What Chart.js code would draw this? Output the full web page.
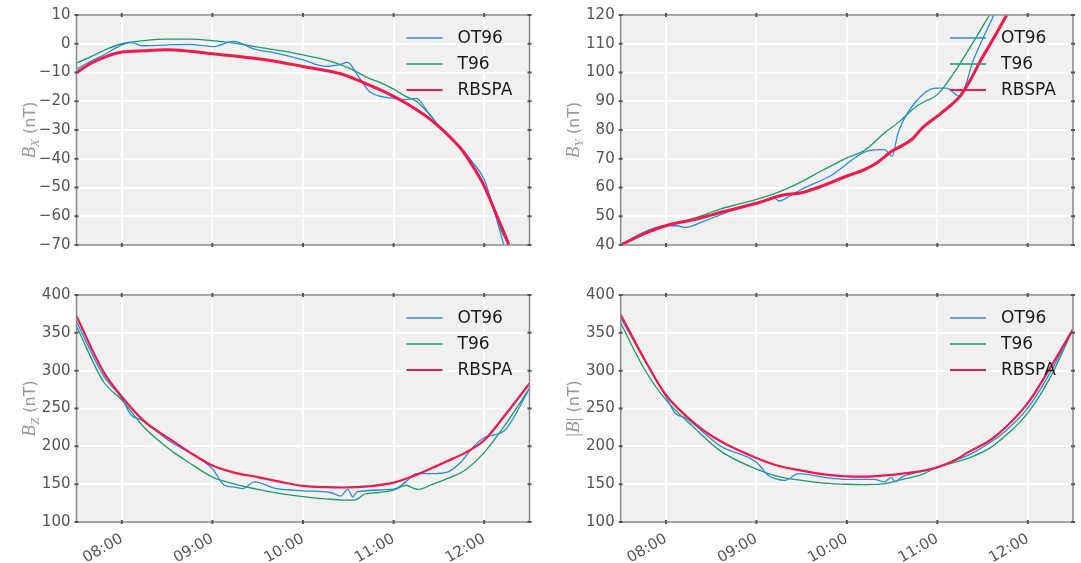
<!DOCTYPE html>
<html>
<head>
<meta charset="utf-8">
<script src="https://cdn.jsdelivr.net/npm/chart.js@4.4.1/dist/chart.umd.min.js"></script>
<style>
body { margin: 0; background: #fff; }
.box { position: absolute; }
</style>
</head>
<body>
<div class="box" style="left:0;top:0;width:540px;height:280px"><canvas id="bx"></canvas></div>
<div class="box" style="left:540px;top:0;width:541px;height:280px"><canvas id="by"></canvas></div>
<div class="box" style="left:0;top:280px;width:540px;height:283px"><canvas id="bz"></canvas></div>
<div class="box" style="left:540px;top:280px;width:541px;height:283px"><canvas id="bt"></canvas></div>
<script>
// x is minutes after midnight
const xTicks = [480, 540, 600, 660, 720];
const xLabels = ['08:00', '09:00', '10:00', '11:00', '12:00'];
const seriesNames = ['OT96', 'T96', 'RBSPA'];
const seriesColors = ['#2a8be2', '#1f9a6a', '#f0184c'];

// Bx
const bxTimeOT = [450, 460, 468, 480, 487, 493, 510, 525, 540, 554, 568, 582, 600, 615, 624, 629.5, 636, 644, 659, 668, 675, 683, 691, 705, 712, 720, 726, 733];
const bxOT = [-8.8, -5.9, -3.9, -0.4, 0.4, -0.7, -0.4, -0.2, -1.0, 0.8, -1.9, -3.3, -5.6, -7.9, -7.3, -6.5, -10.8, -16.6, -18.9, -19.4, -19.0, -24.0, -29.3, -36.5, -41.0, -47.2, -57.0, -70];
const bxTimeT96 = [450, 460, 470, 480, 495, 510, 525, 540, 555, 570, 585, 600, 615, 627, 635, 643, 652, 660, 668, 675, 683, 691, 705, 720, 728, 731, 736];
const bxT96 = [-6.7, -4.4, -1.9, 0, 1.1, 1.6, 1.6, 1.1, 0.2, -1.2, -2.4, -3.9, -5.6, -7.7, -9.6, -11.9, -13.7, -15.8, -18.3, -20, -24.1, -29.3, -36.8, -49, -60, -64.5, -70];
const bxTimeRB = [450, 460, 470, 480, 495, 509, 525, 540, 555, 570, 585, 600, 615, 627, 635, 643, 652, 660, 668, 675, 683, 691, 698, 705, 711, 720, 727.5, 733, 736.4];
const bxRB = [-10, -6.7, -4.4, -2.9, -2.4, -2.1, -2.6, -3.5, -4.3, -5.2, -6.4, -7.9, -9.3, -10.8, -12.4, -14.2, -16.2, -18.3, -20.6, -22.9, -25.8, -29.3, -32.8, -36.8, -41.4, -49.5, -58.7, -65.6, -70];

// By
const byTimeOT = [450, 465, 480, 487, 493, 505, 520, 540, 552, 555, 563, 570, 589, 614, 625, 630, 634, 646, 659, 666, 675, 684, 697.5];
const byOT = [40, 44.4, 46.7, 46.7, 46.1, 48.2, 51.3, 54.5, 56.3, 55.3, 57.3, 59.4, 64, 72.7, 73.2, 70.9, 79, 90, 94.6, 94.6, 91.7, 104.4, 120];
const byTimeT96 = [450, 465, 480, 500, 516, 528, 540, 555, 566, 584, 600, 612, 625, 635, 646, 652, 660, 671, 682, 694.6];
const byT96 = [40, 43.8, 46.7, 49.5, 52.5, 54.2, 55.9, 58.5, 61, 66, 70.3, 73, 79, 83, 88.2, 90, 92.3, 99.8, 109, 120];
const byTimeRB = [450, 465, 480, 500, 516, 540, 557, 570, 585, 600, 612, 620, 630, 636, 643, 650, 660, 668, 675, 682, 689, 698, 706];
const byRB = [40, 43.8, 46.7, 49, 51.3, 54.5, 57.3, 58.2, 60.8, 64, 66.3, 68.6, 72.7, 74.4, 76.7, 80.7, 84.8, 88.2, 91.7, 97.5, 104.4, 112.5, 120];

// Bz
const bzTimeOT = [450, 468, 480, 486, 493, 513, 530, 540, 548, 555, 560, 568, 582, 600, 618, 625, 629.5, 633, 636, 660, 668, 675, 685, 695.5, 705, 713, 720, 734, 750];
const bzOT = [365, 293, 263.5, 241.8, 235, 205, 186, 170.3, 148.6, 146, 144, 153, 144.3, 141.2, 139, 134.3, 143, 133.4, 140, 143.4, 153, 163.8, 164, 166, 180, 200, 211.4, 222, 276.5];
const bzTimeT96 = [450, 468, 480, 495, 513, 525, 540, 555, 570, 585, 600, 615, 627, 634, 641, 650, 660, 668, 676, 686, 695.5, 707, 720, 734, 750];
const bzT96 = [358.8, 285, 261.3, 224.5, 194, 178, 159.4, 150, 143, 137.5, 133.4, 130.5, 129, 129, 137, 139, 142, 148.6, 143, 150, 157.3, 168, 192, 228.8, 276.5];
const bzTimeRB = [450, 468, 480, 495, 513, 525, 540, 555, 570, 585, 600, 615, 627, 645, 660, 672, 684, 695, 707, 720, 734, 750];
const bzRB = [371.8, 298, 265.6, 233, 208, 192, 174.6, 165, 159.4, 153, 147.7, 146, 145.6, 147.5, 152, 160, 170, 180, 191, 208, 241.8, 283];

// |B|
const btTimeOT = [450, 480, 486, 493, 516, 540, 548, 553, 559, 568, 585, 600, 618, 625, 629.5, 632, 636.5, 660, 670, 682, 695, 705, 720, 734.5, 750];
const btOT = [369.7, 265.6, 244, 237.5, 200.6, 179, 161.6, 157, 155, 163.8, 159, 156.4, 156.4, 153, 159.4, 153, 159.4, 171.6, 180, 189.7, 205, 220, 250.4, 296, 354.5];
const btTimeT96 = [450, 465.6, 480, 500, 516, 540, 555, 570, 585, 600, 612, 625, 639, 650, 660, 670, 682, 695, 705, 720, 734.5, 750];
const btT96 = [363, 302.5, 261.3, 222.3, 194, 170, 160, 154.9, 151.5, 149.9, 149.5, 150.7, 157.3, 163, 172.4, 178, 185.4, 198, 213.6, 244, 289.5, 354.5];
const btTimeRB = [450, 465.6, 480, 500, 516, 540, 555, 570, 585, 600, 612, 625, 645, 660, 672, 682, 695, 705, 720, 734.5, 750];
const btRB = [374, 315.5, 267.8, 228.8, 207, 184.6, 174, 168, 163, 160.3, 160, 161.6, 166, 172.4, 182, 194, 208, 224.5, 257, 302.5, 354.5];

function pts(t, v) {
    return t.map((x, i) => ({ x: x, y: v[i] }));
}

const serif = '"Liberation Serif", "DejaVu Serif", serif';
const sans = '"DejaVu Sans", sans-serif';

const framePlugin = {
    id: 'frame',
    beforeDraw(chart) {
        const a = chart.chartArea, ctx = chart.ctx;
        ctx.save();
        ctx.fillStyle = '#f0f0f0';
        ctx.fillRect(a.left, a.top, a.right - a.left, a.bottom - a.top);
        ctx.restore();
    },
    afterDraw(chart) {
        const a = chart.chartArea, ctx = chart.ctx;
        const o = chart.options.plugins.frame;
        ctx.save();
        // border
        ctx.strokeStyle = '#8a8a8a';
        ctx.lineWidth = 1.5;
        ctx.strokeRect(a.left, a.top, a.right - a.left, a.bottom - a.top);
        // tick marks on every side
        ctx.strokeStyle = '#555';
        ctx.lineWidth = 2;
        ctx.beginPath();
        const xs = chart.scales.x, ys = chart.scales.y;
        xs.ticks.forEach(t => {
            const px = xs.getPixelForValue(t.value);
            ctx.moveTo(px, a.top - 2); ctx.lineTo(px, a.top + 2);
            ctx.moveTo(px, a.bottom - 2); ctx.lineTo(px, a.bottom + 2);
        });
        ys.ticks.forEach(t => {
            const py = ys.getPixelForValue(t.value);
            ctx.moveTo(a.left - 2, py); ctx.lineTo(a.left + 2, py);
            ctx.moveTo(a.right - 2, py); ctx.lineTo(a.right + 2, py);
        });
        ctx.stroke();

        // legend
        ctx.font = '17px ' + sans;
        ctx.textBaseline = 'middle';
        chart.data.datasets.forEach((ds, i) => {
            const y = a.top + 23 + i * 26;
            ctx.strokeStyle = ds.borderColor;
            ctx.lineWidth = Math.min(ds.borderWidth, 2);
            ctx.beginPath();
            ctx.moveTo(a.right - 123, y);
            ctx.lineTo(a.right - 87, y);
            ctx.stroke();
            ctx.fillStyle = '#1a1a1a';
            ctx.fillText(ds.label, a.right - 72, y + 1);
        });

        // y axis title, mathtext style
        ctx.translate(a.left - 48, (a.top + a.bottom) / 2);
        ctx.rotate(-Math.PI / 2);
        ctx.fillStyle = '#999';
        ctx.textBaseline = 'alphabetic';
        let w = 0;
        o.title.forEach(p => { ctx.font = p[1]; w += ctx.measureText(p[0]).width; });
        let x = -w / 2;
        o.title.forEach(p => {
            ctx.font = p[1];
            ctx.fillText(p[0], x, 6 + (p[2] || 0));
            x += ctx.measureText(p[0]).width;
        });
        ctx.restore();
    }
};

function makeChart(id, cfg) {
    const widths = [1.3, 1.3, cfg.redWidth];
    const datasets = cfg.series.map((s, i) => ({
        label: seriesNames[i],
        data: pts(s[0], s[1]),
        borderColor: seriesColors[i],
        borderWidth: widths[i],
        pointRadius: 0,
        cubicInterpolationMode: 'monotone',
        order: [1, 2, 0][i]
    }));
    return new Chart(document.getElementById(id), {
        type: 'line',
        data: { datasets: datasets },
        plugins: [framePlugin],
        options: {
            responsive: true,
            maintainAspectRatio: false,
            animation: false,
            layout: { padding: { top: cfg.padTop, right: cfg.padRight, left: 0, bottom: 0 } },
            plugins: {
                legend: { display: false },
                tooltip: { enabled: false },
                frame: { title: cfg.title }
            },
            scales: {
                x: {
                    type: 'linear',
                    min: 450,
                    max: 750,
                    afterBuildTicks: axis => { axis.ticks = xTicks.map(v => ({ value: v })); },
                    afterFit: axis => { axis.height = cfg.xHeight; },
                    grid: { color: '#ffffff', lineWidth: 2, drawTicks: false },
                    border: { display: false },
                    ticks: {
                        display: cfg.showX,
                        autoSkip: false,
                        minRotation: 30,
                        maxRotation: 30,
                        padding: 8,
                        color: '#555',
                        font: { family: sans, size: 15 },
                        callback: function(value) {
                            const k = xTicks.indexOf(value);
                            return k < 0 ? '' : xLabels[k];
                        }
                    }
                },
                y: {
                    min: cfg.yMin,
                    max: cfg.yMax,
                    afterFit: axis => { axis.width = cfg.yWidth; },
                    grid: { color: '#ffffff', lineWidth: 2, drawTicks: false },
                    border: { display: false },
                    ticks: {
                        stepSize: cfg.yStep,
                        padding: 6,
                        color: '#555',
                        font: { family: sans, size: 15 },
                        callback: function(value) {
                            return value < 0 ? '\u2212' + Math.abs(value) : '' + value;
                        }
                    }
                }
            }
        }
    });
}

makeChart('bx', {
    series: [[bxTimeOT, bxOT], [bxTimeT96, bxT96], [bxTimeRB, bxRB]],
    redWidth: 3, yMin: -70, yMax: 10, yStep: 10,
    yWidth: 76.5, xHeight: 35, padTop: 15, padRight: 10.5, showX: false,
    title: [['B', 'italic 19px ' + serif], ['X', 'italic 13px ' + serif, 4], [' (nT)', '16px ' + sans]]
});
makeChart('by', {
    series: [[byTimeOT, byOT], [byTimeT96, byT96], [byTimeRB, byRB]],
    redWidth: 3, yMin: 40, yMax: 120, yStep: 10,
    yWidth: 80.7, xHeight: 35, padTop: 15, padRight: 8, showX: false,
    title: [['B', 'italic 19px ' + serif], ['Y', 'italic 13px ' + serif, 4], [' (nT)', '16px ' + sans]]
});
makeChart('bz', {
    series: [[bzTimeOT, bzOT], [bzTimeT96, bzT96], [bzTimeRB, bzRB]],
    redWidth: 2.2, yMin: 100, yMax: 400, yStep: 50,
    yWidth: 76.5, xHeight: 41, padTop: 12, padRight: 10.5, showX: true,
    title: [['B', 'italic 19px ' + serif], ['Z', 'italic 13px ' + serif, 4], [' (nT)', '16px ' + sans]]
});
makeChart('bt', {
    series: [[btTimeOT, btOT], [btTimeT96, btT96], [btTimeRB, btRB]],
    redWidth: 2.2, yMin: 100, yMax: 400, yStep: 50,
    yWidth: 80.7, xHeight: 41, padTop: 12, padRight: 8, showX: true,
    title: [['|', '19px ' + serif], ['B', 'italic 19px ' + serif], ['|', '19px ' + serif], [' (nT)', '16px ' + sans]]
});
</script>
</body>
</html>
